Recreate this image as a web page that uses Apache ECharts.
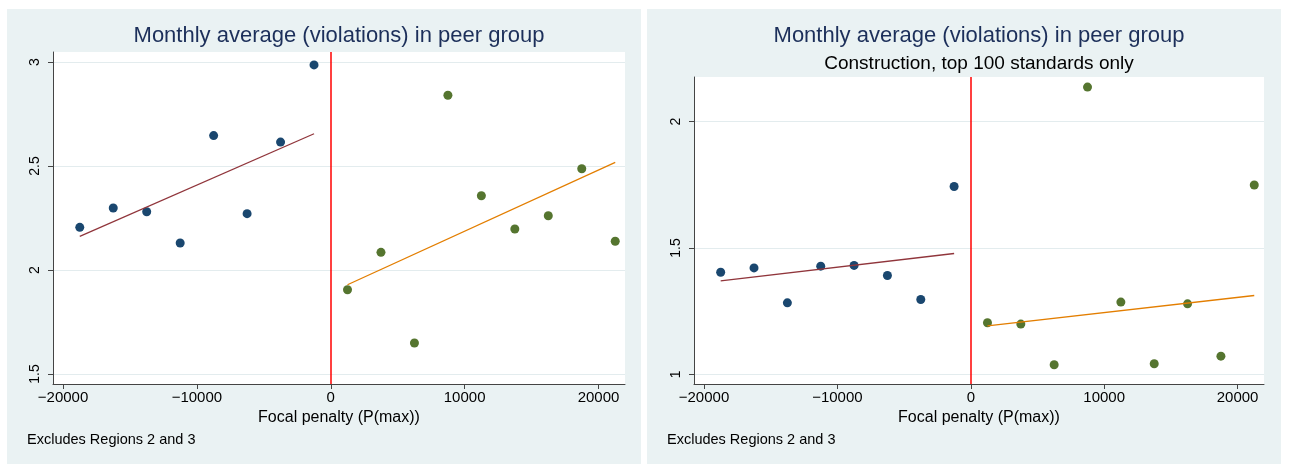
<!DOCTYPE html>
<html>
<head>
<meta charset="utf-8">
<script src="https://cdn.jsdelivr.net/npm/echarts@6/dist/echarts.min.js"></script>
<style>
  html, body { margin: 0; padding: 0; background: #fff; }
  .panel { position: absolute; background: #eaf2f3; top: 9px; height: 455px; }
  #chart { position: absolute; left: 0; top: 0; width: 1293px; height: 464px; }
</style>
</head>
<body>
<div class="panel" style="left:7px;width:634px"></div>
<div class="panel" style="left:647px;width:634px"></div>
<div id="chart"></div>
<script>
// bin centres of the focal penalty, below and above the cutoff
const xBelow = [-18750, -16250, -13750, -11250, -8750, -6250, -3750, -1250]
const xAbove = [1250, 3750, 6250, 8750, 11250, 13750, 16250, 18750, 21250]

// left panel: all standards
const allBelow = [2.205, 2.298, 2.280, 2.130, 2.646, 2.271, 2.615, 2.986]
const allAbove = [1.905, 2.085, 1.649, 2.840, 2.357, 2.197, 2.261, 2.487, 2.138]
const allFitBelow = [2.162, 2.655]
const allFitAbove = [1.929, 2.517]

// right panel: construction, top 100 standards
const conBelow = [1.404, 1.421, 1.283, 1.428, 1.431, 1.391, 1.296, 1.743]
const conAbove = [1.204, 1.199, 1.038, 2.136, 1.286, 1.042, 1.279, 1.072, 1.749]
const conFitBelow = [1.370, 1.478]
const conFitAbove = [1.192, 1.312]

// tick labels
const xTicks = [-20000, -10000, 0, 10000, 20000]
const allYTicks = [1.5, 2, 2.5, 3]
const conYTicks = [1, 1.5, 2]

const FONT = '"Liberation Sans", Arial, Helvetica, sans-serif'
const NAVY = '#1a476f'
const GREEN = '#55752f'
const MAROON = '#90353b'
const ORANGE = '#e37e00'

const pairs = (xs, ys) => xs.map((x, i) => [x, ys[i]])
const ends = (xs, ys) => [[xs[0], ys[0]], [xs[xs.length - 1], ys[1]]]

function xAxisFor(gridIndex) {
  return {
    gridIndex: gridIndex,
    type: 'value',
    min: -20750,
    max: 21980,
    name: 'Focal penalty (P(max))',
    nameLocation: 'middle',
    nameGap: 25,
    nameTextStyle: { color: '#000', fontSize: 16, fontFamily: FONT },
    axisLine: { show: true, onZero: false, lineStyle: { color: '#444', width: 1 } },
    axisTick: { show: true, length: 5, customValues: xTicks, lineStyle: { color: '#444' } },
    axisLabel: {
      customValues: xTicks,
      margin: 6,
      color: '#000',
      fontSize: 15,
      fontFamily: FONT,
      formatter: (v) => (v < 0 ? '\u2212' + Math.abs(v) : String(v))
    },
    splitLine: { show: false }
  }
}

function yAxisFor(gridIndex, min, max, ticks) {
  return {
    gridIndex: gridIndex,
    type: 'value',
    min: min,
    max: max,
    axisLine: { show: true, onZero: false, lineStyle: { color: '#444', width: 1 } },
    axisTick: { show: true, length: 5, customValues: ticks, lineStyle: { color: '#444' } },
    axisLabel: {
      customValues: ticks,
      rotate: 90,
      margin: 11,
      color: '#000',
      fontSize: 14,
      fontFamily: FONT,
      formatter: (v) => String(v)
    },
    splitLine: { show: true, lineStyle: { color: '#e3ecee', width: 1 } }
  }
}

function cutoff() {
  return {
    silent: true,
    symbol: ['none', 'none'],
    label: { show: false },
    lineStyle: { color: '#ff0000', width: 1.5, type: 'solid' },
    data: [{ xAxis: 0 }]
  }
}

function panelSeries(idx, below, above, fitBelow, fitAbove) {
  return [
    {
      type: 'scatter', xAxisIndex: idx, yAxisIndex: idx,
      symbolSize: 9, itemStyle: { color: NAVY, opacity: 1 },
      data: pairs(xBelow, below),
      markLine: cutoff(),
      z: 3
    },
    {
      type: 'scatter', xAxisIndex: idx, yAxisIndex: idx,
      symbolSize: 9, itemStyle: { color: GREEN, opacity: 1 },
      data: pairs(xAbove, above),
      z: 3
    },
    {
      type: 'line', xAxisIndex: idx, yAxisIndex: idx,
      showSymbol: false, lineStyle: { color: MAROON, width: 1.3 },
      data: ends(xBelow, fitBelow),
      z: 4
    },
    {
      type: 'line', xAxisIndex: idx, yAxisIndex: idx,
      showSymbol: false, lineStyle: { color: ORANGE, width: 1.3 },
      data: ends(xAbove, fitAbove),
      z: 4
    }
  ]
}

function label(x, y, text, size, color, align) {
  return {
    type: 'text', x: x, y: y, silent: true,
    style: {
      text: text, fill: color, font: size + 'px ' + FONT,
      align: align || 'center', verticalAlign: 'middle'
    }
  }
}

const chart = echarts.init(document.getElementById('chart'), null, { renderer: 'canvas' })
chart.setOption({
  animation: false,
  backgroundColor: 'transparent',
  grid: [
    { left: 53, top: 52, width: 572, height: 332, show: true, backgroundColor: '#fff', borderWidth: 0 },
    { left: 694, top: 77, width: 570, height: 307, show: true, backgroundColor: '#fff', borderWidth: 0 }
  ],
  xAxis: [xAxisFor(0), xAxisFor(1)],
  yAxis: [
    yAxisFor(0, 1.452, 3.048, allYTicks),
    yAxisFor(1, 0.962, 2.176, conYTicks)
  ],
  series: [
    ...panelSeries(0, allBelow, allAbove, allFitBelow, allFitAbove),
    ...panelSeries(1, conBelow, conAbove, conFitBelow, conFitAbove)
  ],
  graphic: [
    label(339, 36, 'Monthly average (violations) in peer group', 22, '#1c2f5a'),
    label(979, 36, 'Monthly average (violations) in peer group', 22, '#1c2f5a'),
    label(979, 64, 'Construction, top 100 standards only', 19, '#000'),
    label(27, 440, 'Excludes Regions 2 and 3', 14.5, '#000', 'left'),
    label(667, 440, 'Excludes Regions 2 and 3', 14.5, '#000', 'left')
  ]
})
</script>
</body>
</html>
